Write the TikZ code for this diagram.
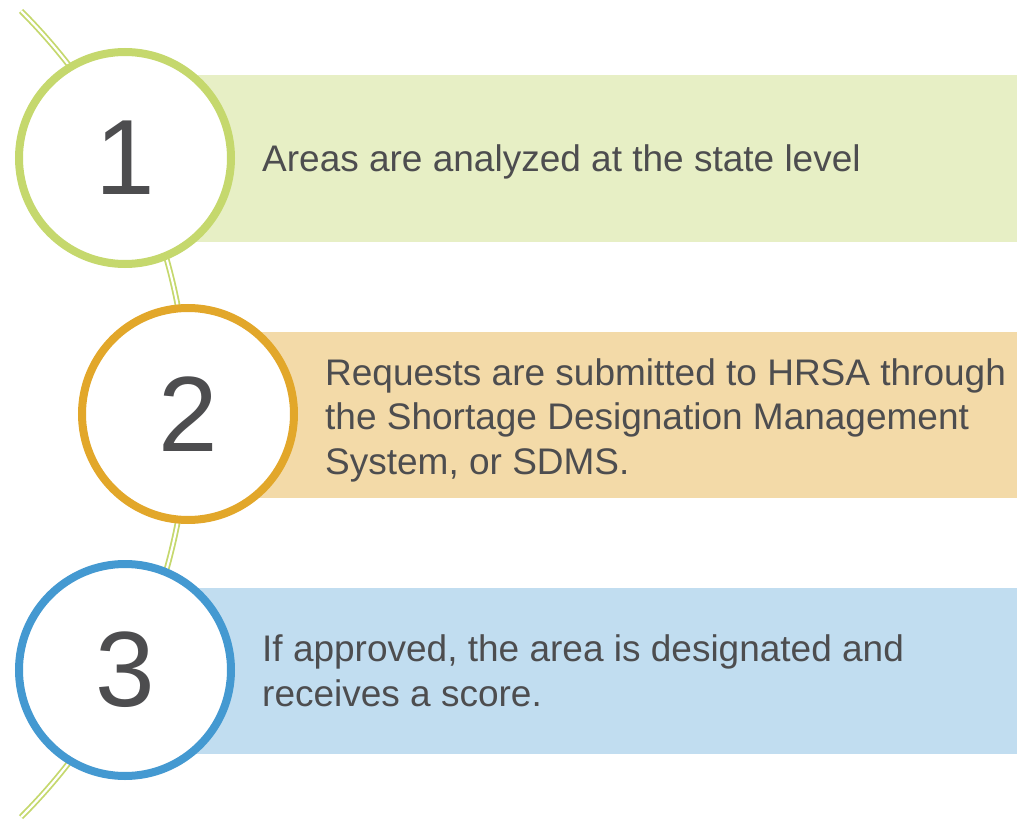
\documentclass[tikz,border=0pt]{standalone}
\usepackage{fontspec}
\setmainfont{Liberation Sans}
\usetikzlibrary{calc}
\definecolor{cgreen}{HTML}{C5D86D}
\definecolor{rgreen}{HTML}{E7EFC5}
\definecolor{corange}{HTML}{E2A72A}
\definecolor{rorange}{HTML}{F3DAA8}
\definecolor{cblue}{HTML}{4499D1}
\definecolor{rblue}{HTML}{C1DDF0}
\definecolor{txt}{HTML}{4D4D4F}
\begin{document}
\begin{tikzpicture}[x=1pt,y=-1pt,
  ring/.style={circle,draw,line width=8pt,fill=white,minimum size=212pt,inner sep=0pt,
    text=txt,font=\fontsize{107}{110}\selectfont},
  label/.style={anchor=base west,inner sep=0pt,text=txt,align=left,
    font=\fontsize{37}{44.5}\selectfont}]
\useasboundingbox (0,0) rectangle (1017,821);
% spine
\coordinate (arcc) at (-382,414);
\draw[cgreen,line width=1.8pt,double=white,double distance=2.2pt]
  ($(arcc)+(-45:570)$) arc[start angle=-45,end angle=45,radius=570];
% bands
\fill[rgreen] (125,75) rectangle (1017,242);
\fill[rorange] (188,332) rectangle (1017,498);
\fill[rblue] (125,588) rectangle (1017,754);
% circles
\node[ring,draw=cgreen] (c1) at (125,158) {1};
\node[ring,draw=corange] (c2) at (188,414) {2};
\node[ring,draw=cblue] (c3) at (125,670) {3};
% texts (base anchor = last line's baseline)
\node[label] (t1) at (262,172) {Areas are analyzed at the state level};
\node[label] (t2) at (325,474) {Requests are submitted to HRSA through\\the Shortage Designation Management\\System, or SDMS.};
\node[label] (t3) at (262,706) {If approved, the area is designated and\\receives a score.};
\end{tikzpicture}
\end{document}
